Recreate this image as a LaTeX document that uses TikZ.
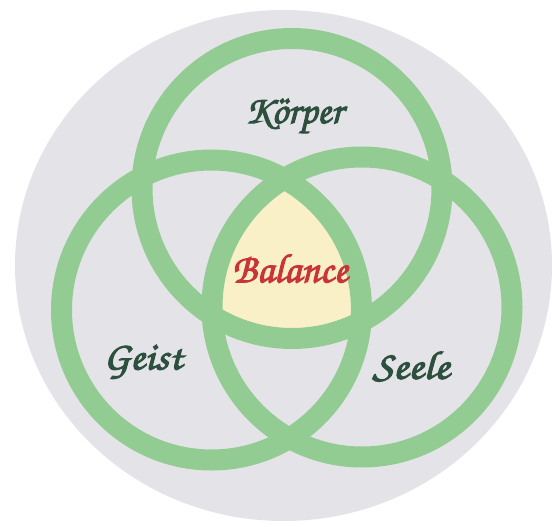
\documentclass[tikz,border=0pt]{standalone}
\usepackage[T1,TU]{fontenc}
\definecolor{bggrey}{RGB}{228,228,232}
\definecolor{ringgreen}{RGB}{146,204,146}
\definecolor{coreyellow}{RGB}{250,240,200}
\definecolor{labelgreen}{RGB}{45,80,62}
\definecolor{balancered}{RGB}{200,52,55}
\newcommand{\handfont}{\fontencoding{T1}\fontfamily{pzc}\fontseries{mb}\fontshape{it}\selectfont}
\newcommand{\heavytext}[1]{\special{pdf:literal direct 2 Tr 1.0 w}#1\special{pdf:literal direct 0 Tr 1 w}}
\tikzset{
  ring/.style={draw=ringgreen, line width=21pt},
  lbl/.style={text=labelgreen, font=\handfont\fontsize{40}{44}\selectfont, inner sep=0pt},
  core/.style={text=balancered, font=\handfont\fontsize{41}{45}\selectfont, inner sep=0pt}
}
\begin{document}
\begin{tikzpicture}[x=1pt,y=-1pt]
\useasboundingbox (0,0) rectangle (552,527);
\fill[white] (0,0) rectangle (552,527);
\fill[bggrey] (283.5,265.5) ellipse [x radius=268.5, y radius=255.5];
\coordinate (ct) at (292,188.5);
\coordinate (cl) at (211.5,310);
\coordinate (cr) at (362,307);
\begin{scope}
  \clip (ct) circle (150);
  \clip (cl) circle (150);
  \fill[coreyellow] (cr) circle (150);
\end{scope}
\draw[ring] (ct) circle (150);
\draw[ring] (cl) circle (150);
\draw[ring] (cr) circle (150);
\node[lbl] (k) at (294,117) {\heavytext{K\"orper}};
\node[core] (b) at (290,268) {\heavytext{Balance}};
\node[lbl, xscale=1.07] (g) at (143,362) {\heavytext{Geist}};
\node[lbl, xscale=1.12] (s) at (411,366) {\heavytext{Seele}};
\end{tikzpicture}
\end{document}
